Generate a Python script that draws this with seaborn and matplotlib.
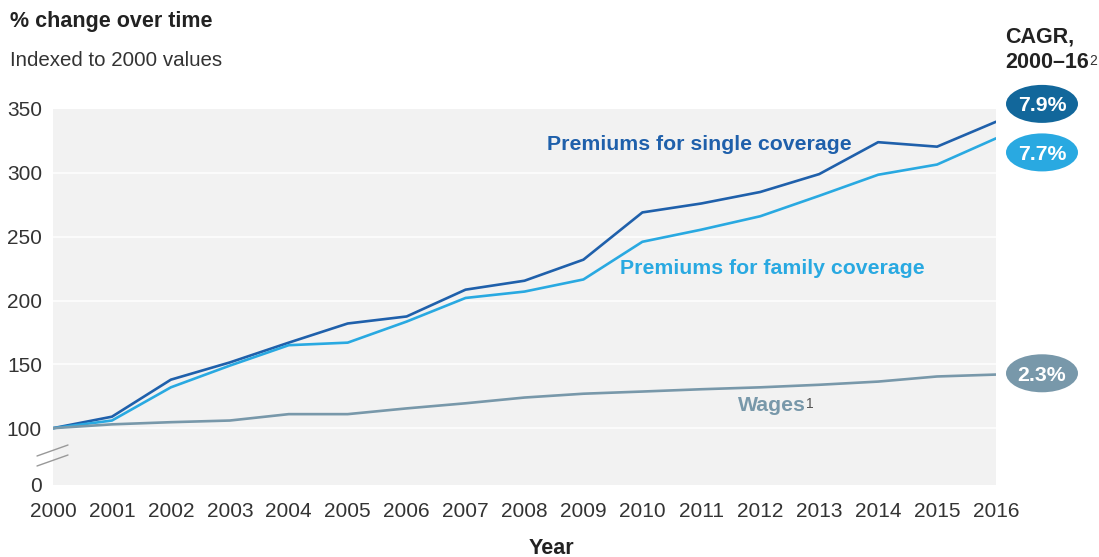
import numpy as np
import pandas as pd
import matplotlib
matplotlib.use("Agg")
import matplotlib.pyplot as plt
from matplotlib.patches import Ellipse
from matplotlib.offsetbox import DrawingArea, AnnotationBbox
import seaborn as sns

years = list(range(2000, 2017))
single = [100, 109, 138, 151.5, 167, 182, 187.5, 208.5, 215.5, 232, 269, 276, 285, 299, 324, 320.5, 340]
family = [100, 106, 132, 149, 165, 167, 183.5, 202, 207, 216.5, 246, 255.5, 266, 282, 298.5, 306.5, 327]
wages = [100, 103, 104.7, 106, 111, 111, 115.5, 119.5, 124, 127, 128.7, 130.5, 132, 134, 136.5, 140.5, 142]
series_names = ["Premiums for single coverage", "Premiums for family coverage", "Wages"]
cagr_labels = ["7.9%", "7.7%", "2.3%"]
cagr_y = [354, 316, 143]
y_ticks = [0, 100, 150, 200, 250, 300, 350]

c_single = "#1f60ab"
c_family = "#29a9e1"
c_wages = "#7898aa"
c_badge = ["#12679b", "#29a9e1", "#7898aa"]

df = pd.DataFrame({
    "year": years * 3,
    "value": single + family + wages,
    "series": sum([[n] * len(years) for n in series_names], []),
})

sns.set_theme(style="white")
plt.rcParams["font.family"] = ["Liberation Sans", "DejaVu Sans"]

fig = plt.figure(figsize=(10.99, 5.57), dpi=100)
ax = fig.add_axes([53 / 1099, 72 / 557, 943 / 1099, 376 / 557])
ax.set_facecolor("#f2f2f2")

k = 0.445
def fwd(y):
    y = np.asarray(y, dtype=float)
    return np.where(y >= 100, y, 100 - (100 - y) * k)
def inv(y):
    y = np.asarray(y, dtype=float)
    return np.where(y >= 100, y, 100 - (100 - y) / k)
ax.set_yscale("function", functions=(fwd, inv))

for y in [100, 150, 200, 250, 300]:
    ax.axhline(y, color="white", lw=1.1, zorder=1)

sns.lineplot(data=df, x="year", y="value", hue="series",
             palette=[c_single, c_family, c_wages], hue_order=series_names,
             linewidth=1.9, legend=False, ax=ax, zorder=3)

ax.set_xlim(2000, 2016)
ax.set_ylim(0, 350)
ax.set_yticks(y_ticks)
ax.set_yticklabels([str(t) for t in y_ticks])
ax.set_xticks(years)
ax.set_xticklabels([str(y) for y in years])
ax.set_xticks(years[1:-1], minor=True)
ax.tick_params(axis="x", which="major", length=0, pad=12, labelsize=15, labelcolor="#333333")
ax.tick_params(axis="x", which="minor", length=12, width=1, direction="in", color="#999999")
ax.tick_params(axis="y", length=0, pad=8, labelsize=15, labelcolor="#333333")
ax.set_xlabel("")
ax.set_ylabel("")
ax.grid(False)
for s in ax.spines.values():
    s.set_visible(False)

# axis break marks
for dy in [0, 10]:
    ax.plot([-16 / 943, 15 / 943], [(29 - dy) / 376, (40 - dy) / 376],
            transform=ax.transAxes, color="#999999", lw=1, clip_on=False)

# series labels
ax.text(2010.97, 322.5, "Premiums for single coverage", color=c_single,
        fontsize=15.3, fontweight="bold", ha="center", va="center")
ax.text(2012.21, 225, "Premiums for family coverage", color=c_family,
        fontsize=15.3, fontweight="bold", ha="center", va="center")
wt = ax.text(2012.2, 117.5, "Wages", color=c_wages, fontsize=15.3,
             fontweight="bold", ha="center", va="center")
ax.annotate("1", xy=(1, 0.95), xycoords=wt, ha="left", va="top",
            fontsize=10, color="#555555")

# CAGR badges
bx = 1042 / 1099
ew, eh = 72 * 72 / 100, 38 * 72 / 100
for lab, yv, c in zip(cagr_labels, cagr_y, c_badge):
    da = DrawingArea(ew, eh, 0, 0)
    da.add_artist(Ellipse((ew / 2, eh / 2), ew, eh, fc=c, ec="none"))
    ab = AnnotationBbox(da, (bx, yv), xycoords=("figure fraction", "data"),
                        frameon=False, pad=0, box_alignment=(0.5, 0.5),
                        annotation_clip=False)
    ax.add_artist(ab)
    ax.annotate(lab, xy=(bx, yv), xycoords=("figure fraction", "data"),
                ha="center", va="center_baseline", fontsize=15.3, fontweight="bold",
                color="white", annotation_clip=False, zorder=10)

# titles
fig.text(10 / 1099, 1 - 22 / 557, "% change over time", fontsize=15.5, fontweight="bold",
         color="#222222", ha="left", va="center")
fig.text(10 / 1099, 1 - 61 / 557, "Indexed to 2000 values", fontsize=14.8,
         color="#333333", ha="left", va="center")
fig.text(1005 / 1099, 1 - 37 / 557, "CAGR,", fontsize=15.5, fontweight="bold",
         color="#222222", ha="left", va="center")
ct = fig.text(1005 / 1099, 1 - 62 / 557, "2000–16", fontsize=15.5, fontweight="bold",
              color="#222222", ha="left", va="center")
ax.annotate("2", xy=(1, 0.9), xycoords=ct, ha="left", va="top", fontsize=10,
            color="#333333", annotation_clip=False)
fig.text(551 / 1099, 1 - 548 / 557, "Year", fontsize=15.5, fontweight="bold",
         color="#222222", ha="center", va="center")

fig.savefig("out.png", dpi=100, facecolor="white")
